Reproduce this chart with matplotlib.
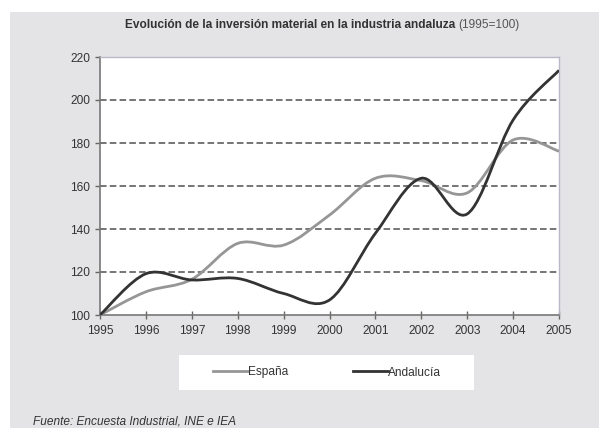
import matplotlib
matplotlib.use("Agg")
import matplotlib.pyplot as plt
import numpy as np
from matplotlib.path import Path
from matplotlib.patches import PathPatch, Rectangle
from matplotlib.lines import Line2D

plt.rcParams['font.family'] = ['Liberation Sans', 'DejaVu Sans']

years = [1995, 1996, 1997, 1998, 1999, 2000, 2001, 2002, 2003, 2004, 2005]
espana = [100, 110.8, 116.6, 133.3, 132.5, 146.5, 163.6, 162.5, 156.8, 181.4, 176.2]
andalucia = [100, 119.2, 116.3, 117.0, 110.0, 107.0, 138.0, 163.6, 147.0, 190.7, 213.8]
yticks = [100, 120, 140, 160, 180, 200, 220]


def smooth_path(x, y):
    # excel-style smoothed line: bezier segments through the points
    x = np.asarray(x, float)
    y = np.asarray(y, float)
    verts = [(x[0], y[0])]
    codes = [Path.MOVETO]
    n = len(x)
    for i in range(n - 1):
        p0 = (x[max(i - 1, 0)], y[max(i - 1, 0)])
        p1 = (x[i], y[i])
        p2 = (x[i + 1], y[i + 1])
        p3 = (x[min(i + 2, n - 1)], y[min(i + 2, n - 1)])
        c1 = (p1[0] + (p2[0] - p0[0]) / 6, p1[1] + (p2[1] - p0[1]) / 6)
        c2 = (p2[0] - (p3[0] - p1[0]) / 6, p2[1] - (p3[1] - p1[1]) / 6)
        verts += [c1, c2, p2]
        codes += [Path.CURVE4] * 3
    return Path(verts, codes)


W, H = 599, 428
fig = plt.figure(figsize=(W / 100, H / 100), dpi=100)
fig.patch.set_facecolor('white')
fig.patches.append(Rectangle((10 / W, 0), 1, 1 - 12 / H, transform=fig.transFigure,
                             facecolor='#e4e4e6', edgecolor='none', zorder=-2))
# legend box
fig.patches.append(Rectangle((179 / W, 1 - 390 / H), 295 / W, 35 / H, transform=fig.transFigure,
                             facecolor='white', edgecolor='none', zorder=-1))

ax = fig.add_axes([100 / W, 1 - 315 / H, 459 / W, 258 / H])
ax.set_facecolor('white')

for v in yticks[1:-1]:
    ax.axhline(v, color='#505050', lw=1.1, ls=(0, (4.3, 2.1)), zorder=1)

ax.add_patch(PathPatch(smooth_path(years, espana), facecolor='none',
                       edgecolor='#969696', lw=2.0, zorder=3))
ax.add_patch(PathPatch(smooth_path(years, andalucia), facecolor='none',
                       edgecolor='#333333', lw=2.0, zorder=4))

ax.set_xlim(1995, 2005)
ax.set_ylim(100, 220)
ax.set_xticks(years)
ax.set_yticks(yticks)
ax.tick_params(axis='x', direction='inout', length=6, width=1, color='#666666',
               labelsize=8.6, pad=4.5, labelcolor='#333333')
ax.tick_params(axis='y', direction='out', length=3.6, width=1, color='#666666',
               labelsize=8.6, pad=3.4, labelcolor='#333333')
for s in ['left', 'bottom']:
    ax.spines[s].set_color('#777777')
    ax.spines[s].set_linewidth(1.2)
for s in ['top', 'right']:
    ax.spines[s].set_color('#b8b8c8')
    ax.spines[s].set_linewidth(1)

t1 = fig.text(125 / W, 1 - 25 / H, 'Evolución de la inversión material en la industria andaluza',
              fontsize=8.6, fontweight='bold', color='#333333', va='center', ha='left')
ax.annotate('(1995=100)', xy=(1, 0.5), xycoords=t1, xytext=(2.5, 0),
            textcoords='offset points', fontsize=8.6, color='#555555',
            va='center', ha='left', annotation_clip=False)

handles = [Line2D([], [], color='#969696', lw=2),
           Line2D([], [], color='#333333', lw=2)]
leg = fig.legend(handles, ['España', 'Andalucía'], loc='center',
                 bbox_to_anchor=(327 / W, 1 - 372.5 / H), ncol=2, frameon=False,
                 fontsize=8.6, handlelength=2.9, handletextpad=0.0,
                 columnspacing=5.4)
for t in leg.get_texts():
    t.set_color('#333333')

fig.text(33 / W, 1 - 421 / H, 'Fuente: Encuesta Industrial, INE e IEA', fontsize=8.6,
         style='italic', color='#333333', va='center', ha='left')

fig.savefig('out.png', dpi=100, facecolor=fig.get_facecolor())
